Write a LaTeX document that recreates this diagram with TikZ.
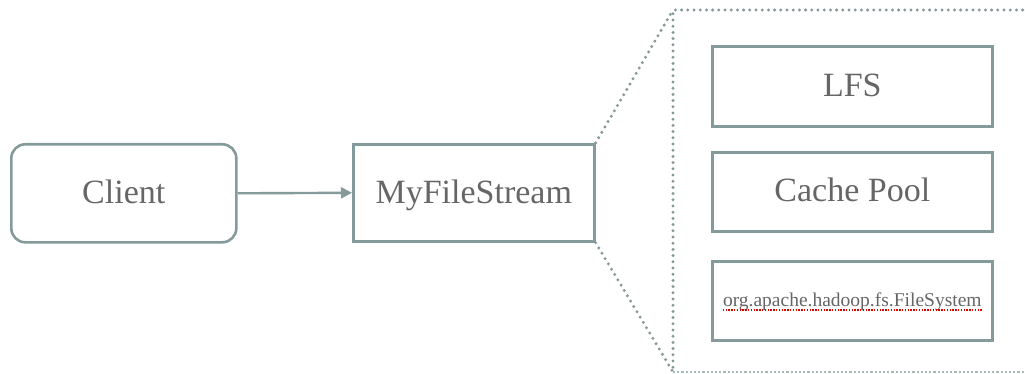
\documentclass[tikz,border=0pt]{standalone}
\usepackage{fontspec}
\setmainfont{Liberation Serif}
\usetikzlibrary{arrows.meta}
\definecolor{edge}{HTML}{849A9B}
\definecolor{ink}{HTML}{666666}
\definecolor{dotc}{HTML}{86999A}
\tikzset{
  box/.style={draw=edge, line width=2.6pt, inner sep=0pt, anchor=north west},
  roundbox/.style={box, rounded corners=14pt},
  label/.style={text=ink, inner sep=0pt, anchor=base},
  bigtext/.style={label, font=\fontsize{34}{38}\selectfont},
  smalltext/.style={label, font=\fontsize{19.5}{22}\selectfont},
  flow/.style={draw=edge, line width=2.4pt, -{Triangle[length=11pt,width=11pt]}},
  zoomline/.style={draw=dotc, line width=3.3pt, line cap=round, dash pattern=on 0pt off 6.2pt},
  faintline/.style={draw=dotc!70, line width=1.3pt, dash pattern=on 2.2pt off 2pt},
  squiggle/.style={draw=red!85!black, line width=1.4pt, dash pattern=on 1.4pt off 1.4pt}
}
\begin{document}
\begin{tikzpicture}[x=1pt, y=-1pt]
  \useasboundingbox (0,0) rectangle (1025,374);
  \clip (0,0) rectangle (1025,374);

  % main nodes
  \node[roundbox, minimum width=225pt, minimum height=98pt] (client) at (10,143) {};
  \node[bigtext] at (client.center |- 0,204) {Client};
  \node[box, minimum width=241pt, minimum height=97pt] (mfs) at (352,143) {};
  \node[bigtext] at (mfs.center |- 0,204) {MyFileStream};

  \draw[flow] (client.east) -- (mfs.west);

  % detail panel
  \coordinate (ptl) at (673,10);
  \coordinate (pbl) at (673,372);
  \coordinate (ptr) at (1035,10);
  \coordinate (pbr) at (1035,372);
  \draw[zoomline] (ptr) -- (ptl) -- (pbl);
  \draw[faintline] (pbl) -- (pbr);
  \draw[zoomline] (mfs.north east) -- (ptl);
  \draw[zoomline] (mfs.south east) -- (pbl);

  % panel contents
  \node[box, minimum width=280pt, minimum height=80pt] (lfs) at (711,45) {};
  \node[bigtext] at (lfs.center |- 0,97) {LFS};
  \node[box, minimum width=280pt, minimum height=79pt] (cache) at (711,151) {};
  \node[bigtext] at (cache.center |- 0,202) {Cache Pool};
  \node[box, minimum width=280pt, minimum height=79pt] (hfs) at (711,260) {};
  \node[smalltext] (hfstext) at (hfs.center |- 0,306) {org.apache.hadoop.fs.FileSystem};
  \draw[squiggle] ([yshift=-4pt]hfstext.base west) -- ([yshift=-4pt]hfstext.base east);
\end{tikzpicture}
\end{document}
